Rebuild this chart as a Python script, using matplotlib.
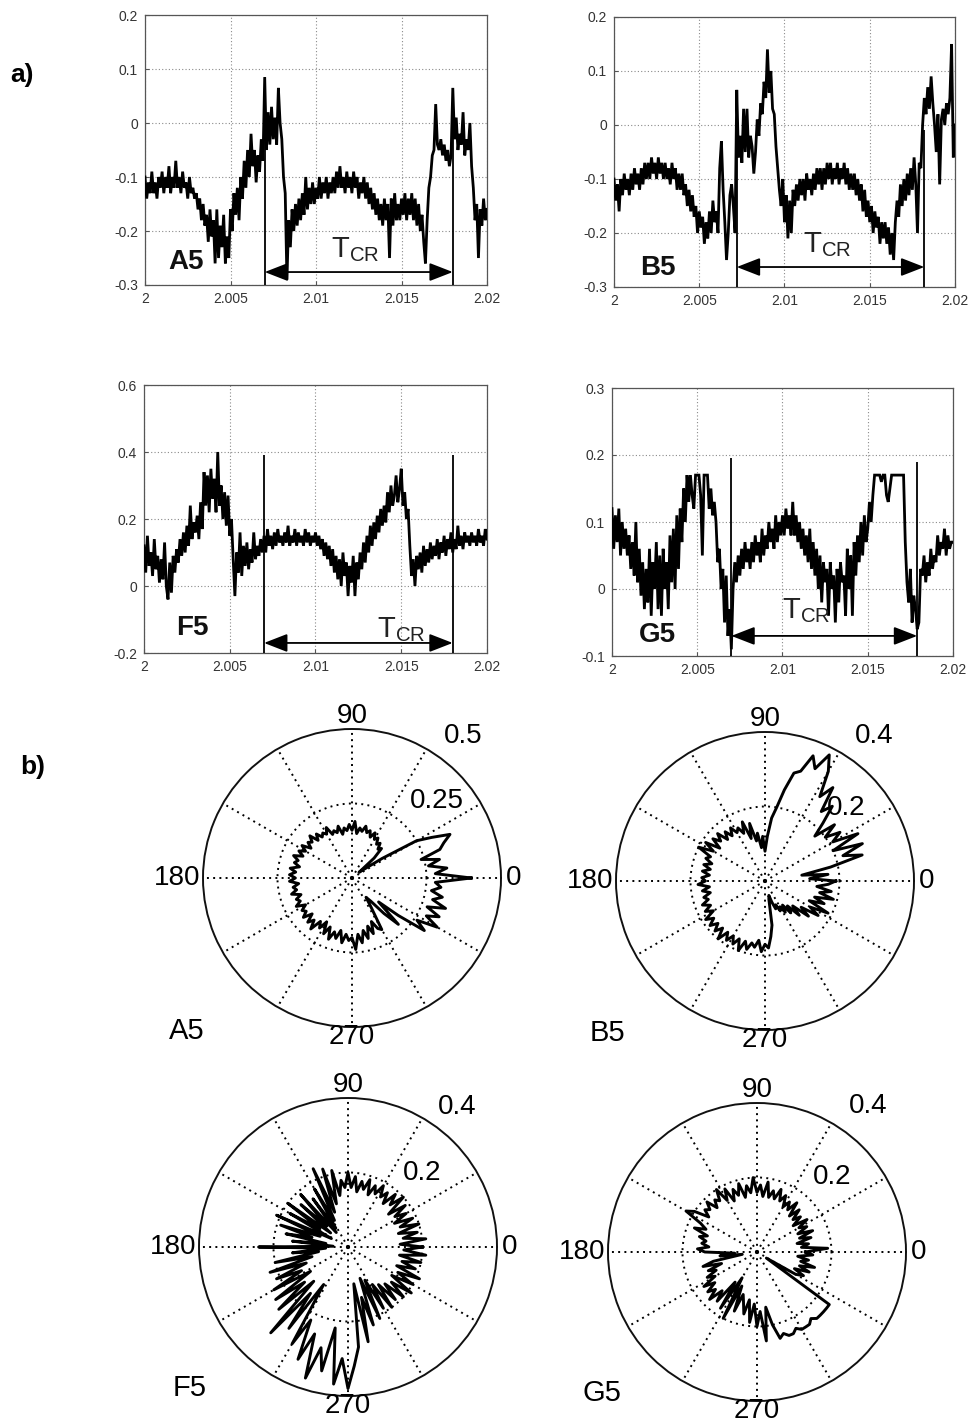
import numpy as np
import matplotlib
matplotlib.use('Agg')
import matplotlib.pyplot as plt

plt.rcParams['font.family'] = ['Liberation Sans', 'DejaVu Sans']
plt.rcParams['mathtext.fontset'] = 'custom'
plt.rcParams['mathtext.rm'] = 'Liberation Sans'

# ---------------- time series (a) ----------------
t_start = 2.0
t_step = 0.0001

a5_signal = [
    -0.10, -0.14, -0.11, -0.13, -0.09, -0.13, -0.11, -0.14, -0.10, -0.12,
    -0.09, -0.13, -0.10, -0.12, -0.08, -0.13, -0.10, -0.12, -0.07, -0.12,
    -0.10, -0.13, -0.09, -0.12, -0.11, -0.14, -0.10, -0.13, -0.12, -0.14,
    -0.13, -0.16, -0.14, -0.18, -0.15, -0.19, -0.17, -0.22, -0.16, -0.21,
    -0.18, -0.26, -0.16, -0.25, -0.19, -0.23, -0.17, -0.26, -0.21, -0.25,
    -0.16, -0.20, -0.13, -0.17, -0.12, -0.18, -0.10, -0.14, -0.07, -0.12,
    -0.05, -0.10, -0.02, -0.08, -0.05, -0.11, -0.06, -0.09, -0.03, -0.07,
    0.085, -0.05, 0.02, -0.04, 0.03, -0.03, 0.01, -0.04, 0.065, 0.00,
    -0.03, -0.10, -0.13, -0.29, -0.18, -0.23, -0.16, -0.20, -0.15, -0.19,
    -0.14, -0.18, -0.13, -0.17, -0.10, -0.16, -0.12, -0.15, -0.11, -0.15,
    -0.12, -0.14, -0.10, -0.14, -0.11, -0.13, -0.10, -0.14, -0.11, -0.13,
    -0.10, -0.13, -0.09, -0.12, -0.08, -0.12, -0.10, -0.13, -0.09, -0.12,
    -0.10, -0.13, -0.09, -0.12, -0.10, -0.14, -0.11, -0.13, -0.10, -0.14,
    -0.11, -0.15, -0.12, -0.16, -0.13, -0.17, -0.14, -0.18, -0.15, -0.19,
    -0.14, -0.18, -0.15, -0.25, -0.14, -0.19, -0.13, -0.18, -0.15, -0.18,
    -0.14, -0.17, -0.13, -0.18, -0.14, -0.17, -0.13, -0.18, -0.14, -0.19,
    -0.15, -0.20, -0.17, -0.22, -0.26, -0.18, -0.12, -0.10, -0.06, -0.05,
    0.035, -0.04, -0.05, -0.03, -0.06, -0.04, -0.07, -0.05, -0.08, -0.06,
    0.065, -0.03, 0.01, -0.05, -0.02, -0.04, 0.02, -0.06, -0.03, -0.05,
    0.00, -0.08, -0.12, -0.18, -0.15, -0.25, -0.16, -0.19, -0.14, -0.18,
    -0.16,
]

b5_signal = [
    -0.10, -0.14, -0.11, -0.16, -0.10, -0.13, -0.09, -0.12, -0.10, -0.13,
    -0.09, -0.12, -0.08, -0.11, -0.09, -0.12, -0.08, -0.11, -0.07, -0.10,
    -0.07, -0.10, -0.06, -0.09, -0.07, -0.10, -0.06, -0.09, -0.07, -0.10,
    -0.07, -0.10, -0.08, -0.11, -0.07, -0.10, -0.08, -0.12, -0.09, -0.12,
    -0.09, -0.13, -0.11, -0.15, -0.12, -0.16, -0.13, -0.17, -0.15, -0.20,
    -0.16, -0.19, -0.17, -0.22, -0.18, -0.21, -0.16, -0.20, -0.14, -0.18,
    -0.16, -0.20, -0.08, -0.03, -0.12, -0.18, -0.25, -0.20, -0.13, -0.11,
    -0.15, -0.20, 0.065, -0.06, -0.02, -0.07, 0.03, -0.05, 0.03, -0.06,
    -0.02, -0.04, -0.09, -0.05, 0.01, -0.02, 0.04, 0.02, 0.08, 0.05,
    0.14, 0.06, 0.10, 0.03, 0.02, -0.04, -0.08, -0.12, -0.15, -0.10,
    -0.18, -0.13, -0.21, -0.14, -0.20, -0.12, -0.15, -0.11, -0.14, -0.10,
    -0.13, -0.10, -0.14, -0.09, -0.12, -0.10, -0.13, -0.09, -0.12, -0.08,
    -0.11, -0.08, -0.12, -0.08, -0.11, -0.07, -0.10, -0.07, -0.11, -0.08,
    -0.10, -0.07, -0.11, -0.08, -0.10, -0.07, -0.11, -0.08, -0.12, -0.09,
    -0.12, -0.09, -0.13, -0.10, -0.14, -0.11, -0.16, -0.12, -0.17, -0.14,
    -0.18, -0.15, -0.20, -0.16, -0.19, -0.17, -0.22, -0.18, -0.21, -0.18,
    -0.22, -0.19, -0.24, -0.20, -0.25, -0.18, -0.14, -0.17, -0.11, -0.15,
    -0.10, -0.14, -0.09, -0.13, -0.08, -0.12, -0.06, -0.11, -0.20, -0.07,
    -0.08, 0.00, 0.05, 0.02, 0.07, 0.03, 0.09, 0.04, 0.00, -0.05,
    0.02, -0.11, 0.01, 0.03, 0.00, 0.04, 0.02, 0.05, 0.15, -0.06,
    0.00,
]

f5_signal = [
    0.12, 0.04, 0.15, 0.06, 0.10, 0.03, 0.14, 0.05, 0.09, 0.01,
    0.08, 0.02, 0.13, 0.00, -0.04, 0.07, -0.02, 0.09, 0.04, 0.11,
    0.07, 0.14, 0.09, 0.16, 0.10, 0.18, 0.12, 0.24, 0.14, 0.19,
    0.16, 0.21, 0.14, 0.25, 0.17, 0.34, 0.24, 0.33, 0.22, 0.35,
    0.26, 0.32, 0.22, 0.40, 0.24, 0.30, 0.20, 0.28, 0.18, 0.27,
    0.15, 0.20, 0.08, -0.03, 0.10, 0.04, 0.16, 0.03, 0.12, 0.06,
    0.13, 0.05, 0.11, 0.07, 0.16, 0.08, 0.12, 0.09, 0.14, 0.10,
    0.15, 0.10, 0.17, 0.12, 0.15, 0.11, 0.16, 0.12, 0.17, 0.13,
    0.15, 0.12, 0.16, 0.13, 0.18, 0.12, 0.15, 0.13, 0.17, 0.12,
    0.16, 0.13, 0.15, 0.12, 0.17, 0.13, 0.16, 0.12, 0.15, 0.13,
    0.16, 0.12, 0.15, 0.11, 0.14, 0.09, 0.13, 0.08, 0.12, 0.06,
    0.11, 0.04, 0.09, 0.02, 0.08, 0.00, 0.10, 0.03, 0.07, -0.03,
    0.06, 0.01, 0.09, -0.03, 0.07, 0.02, 0.10, 0.05, 0.13, 0.07,
    0.15, 0.10, 0.18, 0.12, 0.19, 0.14, 0.21, 0.16, 0.23, 0.18,
    0.24, 0.19, 0.28, 0.22, 0.30, 0.24, 0.27, 0.33, 0.25, 0.29,
    0.35, 0.24, 0.28, 0.20, 0.23, 0.12, 0.03, 0.08, 0.00, 0.09,
    0.05, 0.10, 0.04, 0.12, 0.06, 0.11, 0.07, 0.13, 0.08, 0.12,
    0.09, 0.14, 0.08, 0.13, 0.10, 0.15, 0.09, 0.14, 0.11, 0.16,
    0.10, 0.14, 0.11, 0.18, 0.12, 0.15, 0.11, 0.16, 0.13, 0.15,
    0.12, 0.16, 0.13, 0.15, 0.12, 0.17, 0.13, 0.15, 0.12, 0.17,
    0.14,
]

g5_signal = [
    0.12, 0.06, 0.11, 0.07, 0.12, 0.05, 0.10, 0.06, 0.09, 0.05,
    0.08, 0.03, 0.07, 0.02, 0.10, 0.01, 0.06, -0.01, 0.04, -0.03,
    0.03, -0.02, 0.06, -0.04, 0.04, 0.00, 0.07, -0.03, 0.05, -0.04,
    0.06, 0.00, 0.04, -0.03, 0.08, 0.01, 0.09, 0.00, 0.11, 0.03,
    0.12, 0.07, 0.15, 0.10, 0.17, 0.13, 0.17, 0.14, 0.12, 0.17,
    0.17, 0.17, 0.14, 0.05, 0.17, 0.17, 0.17, 0.12, 0.15, 0.11,
    0.13, 0.10, 0.04, 0.06, 0.00, 0.03, -0.05, 0.02, -0.07, -0.03,
    -0.09, 0.00, 0.04, 0.01, 0.05, 0.02, 0.06, 0.03, 0.07, 0.04,
    0.06, 0.03, 0.07, 0.04, 0.08, 0.05, 0.07, 0.04, 0.09, 0.05,
    0.08, 0.06, 0.10, 0.07, 0.09, 0.06, 0.11, 0.07, 0.10, 0.08,
    0.11, 0.08, 0.12, 0.09, 0.11, 0.08, 0.13, 0.08, 0.11, 0.07,
    0.10, 0.06, 0.09, 0.05, 0.08, 0.04, 0.09, 0.03, 0.07, 0.02,
    0.06, 0.00, 0.05, -0.02, 0.04, 0.01, 0.03, -0.04, 0.04, 0.00,
    0.02, -0.05, 0.03, -0.02, 0.04, 0.01, 0.02, -0.04, 0.06, 0.00,
    0.05, -0.04, 0.07, 0.02, 0.08, 0.04, 0.10, 0.05, 0.11, 0.07,
    0.09, 0.13, 0.10, 0.14, 0.17, 0.17, 0.17, 0.17, 0.16, 0.17,
    0.17, 0.14, 0.13, 0.15, 0.17, 0.17, 0.17, 0.17, 0.17, 0.17,
    0.17, 0.17, 0.07, 0.01, -0.02, 0.03, -0.05, -0.01, -0.03, -0.06,
    -0.05, 0.03, 0.02, 0.05, 0.01, 0.04, 0.02, 0.06, 0.03, 0.05,
    0.04, 0.08, 0.05, 0.07, 0.06, 0.09, 0.05, 0.08, 0.06, 0.07,
    0.07,
]

x_ticks = [2.0, 2.005, 2.01, 2.015, 2.02]
x_tick_labels = ['2', '2.005', '2.01', '2.015', '2.02']
ab_yticks = [-0.3, -0.2, -0.1, 0.0, 0.1, 0.2]
ab_ylabels = ['-0.3', '-0.2', '-0.1', '0', '0.1', '0.2']
f5_yticks = [-0.2, 0.0, 0.2, 0.4, 0.6]
f5_ylabels = ['-0.2', '0', '0.2', '0.4', '0.6']
g5_yticks = [-0.1, 0.0, 0.1, 0.2, 0.3]
g5_ylabels = ['-0.1', '0', '0.1', '0.2', '0.3']

# T_CR marker times and heights of the marker lines
a5_tcr = [2.0070, 2.0180]
a5_tcr_top = [0.085, 0.065]
b5_tcr = [2.0072, 2.0182]
b5_tcr_top = [0.062, -0.01]
f5_tcr = [2.0070, 2.0180]
f5_tcr_top = [0.39, 0.39]
g5_tcr = [2.0070, 2.0179]
g5_tcr_top = [0.195, 0.19]

# ---------------- polar plots (b) ----------------
theta_step_deg = 3

a5_polar = [
    0.40, 0.28, 0.32, 0.26, 0.30, 0.24, 0.31, 0.33, 0.36, 0.30,
    0.25, 0.12, 0.05, 0.03, 0.10, 0.14, 0.13, 0.15, 0.14, 0.16,
    0.15, 0.17, 0.15, 0.17, 0.16, 0.18, 0.16, 0.17, 0.15, 0.19,
    0.16, 0.18, 0.16, 0.17, 0.15, 0.18, 0.16, 0.17, 0.16, 0.19,
    0.17, 0.18, 0.17, 0.19, 0.17, 0.20, 0.18, 0.19, 0.17, 0.20,
    0.18, 0.20, 0.18, 0.21, 0.19, 0.20, 0.18, 0.21, 0.19, 0.21,
    0.19, 0.21, 0.18, 0.20, 0.19, 0.21, 0.18, 0.20, 0.19, 0.21,
    0.18, 0.20, 0.19, 0.21, 0.18, 0.21, 0.19, 0.22, 0.18, 0.20,
    0.17, 0.21, 0.18, 0.22, 0.19, 0.21, 0.18, 0.22, 0.19, 0.21,
    0.20, 0.24, 0.19, 0.22, 0.18, 0.21, 0.17, 0.20, 0.16, 0.19,
    0.20, 0.12, 0.08, 0.10, 0.16, 0.22, 0.12, 0.20, 0.30, 0.26,
    0.33, 0.28, 0.32, 0.27, 0.33, 0.28, 0.31, 0.27, 0.30, 0.28,
    0.40,
]

b5_polar = [
    0.19, 0.12, 0.17, 0.10, 0.18, 0.27, 0.22, 0.28, 0.20, 0.28,
    0.21, 0.24, 0.20, 0.24, 0.18, 0.22, 0.27, 0.24, 0.31, 0.27,
    0.34, 0.38, 0.33, 0.36, 0.31, 0.30, 0.25, 0.20, 0.17, 0.12,
    0.08, 0.12, 0.09, 0.13, 0.11, 0.16, 0.12, 0.17, 0.14, 0.16,
    0.15, 0.17, 0.15, 0.17, 0.15, 0.18, 0.16, 0.18, 0.15, 0.19,
    0.16, 0.20, 0.16, 0.17, 0.15, 0.17, 0.15, 0.17, 0.15, 0.17,
    0.16, 0.18, 0.15, 0.17, 0.15, 0.17, 0.16, 0.18, 0.16, 0.18,
    0.16, 0.19, 0.17, 0.19, 0.17, 0.19, 0.17, 0.20, 0.17, 0.19,
    0.17, 0.19, 0.17, 0.20, 0.17, 0.19, 0.17, 0.18, 0.16, 0.19,
    0.17, 0.18, 0.15, 0.12, 0.05, 0.04, 0.06, 0.08, 0.07, 0.09,
    0.08, 0.10, 0.08, 0.11, 0.09, 0.13, 0.10, 0.15, 0.12, 0.17,
    0.14, 0.19, 0.13, 0.17, 0.14, 0.19, 0.15, 0.18, 0.14, 0.17,
    0.19,
]

f5_polar = [
    0.20, 0.14, 0.21, 0.15, 0.19, 0.14, 0.20, 0.15, 0.19, 0.14,
    0.18, 0.15, 0.19, 0.14, 0.20, 0.16, 0.19, 0.15, 0.18, 0.16,
    0.19, 0.16, 0.18, 0.15, 0.19, 0.16, 0.18, 0.15, 0.19, 0.16,
    0.20, 0.16, 0.18, 0.14, 0.21, 0.12, 0.22, 0.10, 0.23, 0.08,
    0.18, 0.06, 0.16, 0.05, 0.19, 0.08, 0.17, 0.06, 0.20, 0.09,
    0.18, 0.05, 0.21, 0.08, 0.19, 0.10, 0.17, 0.06, 0.15, 0.04,
    0.24, 0.06, 0.15, 0.08, 0.20, 0.10, 0.22, 0.12, 0.21, 0.14,
    0.23, 0.12, 0.24, 0.15, 0.25, 0.13, 0.31, 0.16, 0.27, 0.12,
    0.30, 0.22, 0.33, 0.25, 0.37, 0.28, 0.34, 0.22, 0.37, 0.30,
    0.38, 0.32, 0.27, 0.10, 0.26, 0.14, 0.22, 0.09, 0.21, 0.10,
    0.19, 0.12, 0.20, 0.13, 0.19, 0.14, 0.20, 0.15, 0.21, 0.14,
    0.20, 0.15, 0.21, 0.14, 0.19, 0.15, 0.20, 0.14, 0.21, 0.15,
    0.20,
]

g5_polar = [
    0.13, 0.19, 0.12, 0.14, 0.11, 0.15, 0.12, 0.16, 0.12, 0.15,
    0.13, 0.16, 0.12, 0.15, 0.13, 0.16, 0.13, 0.17, 0.14, 0.16,
    0.14, 0.17, 0.15, 0.18, 0.15, 0.17, 0.15, 0.19, 0.15, 0.18,
    0.16, 0.20, 0.16, 0.18, 0.15, 0.19, 0.16, 0.18, 0.15, 0.19,
    0.16, 0.20, 0.17, 0.18, 0.16, 0.19, 0.17, 0.18, 0.16, 0.20,
    0.22, 0.17, 0.15, 0.18, 0.14, 0.16, 0.14, 0.15, 0.13, 0.16,
    0.14, 0.06, 0.10, 0.04, 0.12, 0.15, 0.10, 0.14, 0.12, 0.15,
    0.13, 0.17, 0.14, 0.17, 0.15, 0.18, 0.14, 0.17, 0.10, 0.18,
    0.08, 0.20, 0.10, 0.17, 0.12, 0.14, 0.17, 0.13, 0.19, 0.14,
    0.20, 0.16, 0.24, 0.15, 0.20, 0.24, 0.23, 0.24, 0.24, 0.23,
    0.24, 0.24, 0.24, 0.23, 0.24, 0.24, 0.24, 0.24, 0.24, 0.03,
    0.12, 0.14, 0.11, 0.15, 0.12, 0.16, 0.12, 0.14, 0.11, 0.15,
    0.13,
]

# ---------------- figure ----------------
W, H = 976, 1426
fig = plt.figure(figsize=(W / 100, H / 100), dpi=100)


def rect_px(left, top, width, height):
    return [left / W, 1 - (top + height) / H, width / W, height / H]


def line_panel(rect, y, yticks, ylabels, name, name_xy, tcr, tcr_top,
               arrow_y, t_xy):
    ax = fig.add_axes(rect)
    t = t_start + t_step * np.arange(len(y))
    ax.plot(t, y, color='k', lw=2.0, zorder=3, solid_joinstyle='miter')
    ax.set_xlim(x_ticks[0], x_ticks[-1])
    ax.set_ylim(yticks[0], yticks[-1])
    ax.set_xticks(x_ticks)
    ax.set_xticklabels(x_tick_labels)
    ax.set_yticks(yticks)
    ax.set_yticklabels(ylabels)
    ax.grid(True, color='#8a8a8a', linestyle=(0, (1, 2)), lw=0.8)
    ax.tick_params(direction='in', length=3, labelsize=10,
                   labelcolor='#333333', color='#555555', pad=5)
    for s in ax.spines.values():
        s.set_color('#555555')
        s.set_linewidth(0.9)
    ax.vlines(tcr, yticks[0], tcr_top, color='k', lw=1.3, zorder=4)
    ax.annotate('', xy=(tcr[1], arrow_y), xytext=(tcr[0], arrow_y),
                arrowprops=dict(arrowstyle='<|-|>,head_length=0.9,head_width=0.35',
                                color='k', lw=1.3, mutation_scale=16,
                                shrinkA=0, shrinkB=0), zorder=5)
    ax.text(t_xy[0], t_xy[1], r'$\mathregular{T_{CR}}$', fontsize=21,
            ha='left', va='baseline', color='#222222', zorder=6)
    ax.text(name_xy[0], name_xy[1], name, transform=ax.transAxes,
            fontsize=20, fontweight='bold', ha='center', va='center',
            color='#111111', zorder=6)
    return ax


line_panel(rect_px(145, 15, 342, 270), a5_signal, ab_yticks, ab_ylabels,
           'A5', (0.12, 0.085), a5_tcr, a5_tcr_top, -0.276, (2.0109, -0.248))
line_panel(rect_px(614, 17, 341, 270), b5_signal, ab_yticks, ab_ylabels,
           'B5', (0.13, 0.07), b5_tcr, b5_tcr_top, -0.263, (2.0111, -0.235))
line_panel(rect_px(144, 385, 343, 268), f5_signal, f5_yticks, f5_ylabels,
           'F5', (0.14, 0.093), f5_tcr, f5_tcr_top, -0.17, (2.0136, -0.152))
line_panel(rect_px(612, 388, 341, 268), g5_signal, g5_yticks, g5_ylabels,
           'G5', (0.132, 0.078), g5_tcr, g5_tcr_top, -0.07, (2.0100, -0.043))


def polar_panel(cx, cy, rad, r, rmax, outer_lbl, outer_pos, inner_lbl,
                inner_pos, name, name_px):
    ax = fig.add_axes(rect_px(cx - rad, cy - rad, 2 * rad, 2 * rad),
                      projection='polar')
    theta = np.deg2rad(np.arange(0, 360 + theta_step_deg, theta_step_deg))
    ax.plot(theta, r, color='k', lw=2.1, zorder=3)
    ax.set_ylim(0, rmax)
    ax.set_thetagrids(np.arange(0, 360, 30), labels=[''] * 12)
    ax.set_rgrids([rmax / 2], labels=[''])
    ax.grid(True, color='k', linestyle=(0, (1, 2.2)), lw=1.4)
    ax.spines['polar'].set_linewidth(1.4)
    ax.spines['polar'].set_color('#111111')
    fs = 20
    ax.text(0, rmax * 1.035, '0', ha='left', va='center', fontsize=fs,
            clip_on=False)
    ax.text(np.pi / 2, rmax * 1.085, '90', ha='center', va='center',
            fontsize=fs, clip_on=False)
    ax.text(np.pi, rmax * 1.02, '180', ha='right', va='center', fontsize=fs,
            clip_on=False)
    ax.text(3 * np.pi / 2, rmax * 1.065, '270', ha='center', va='center',
            fontsize=fs, clip_on=False)
    ax.text(np.deg2rad(outer_pos[0]), outer_pos[1] * rmax, outer_lbl,
            ha='center', va='center', fontsize=20, clip_on=False)
    ax.text(np.deg2rad(inner_pos[0]), inner_pos[1] * rmax, inner_lbl,
            ha='center', va='center', fontsize=20, clip_on=False, zorder=2)
    fig.text(name_px[0] / W, 1 - name_px[1] / H, name, ha='center',
             va='center', fontsize=21)
    return ax


polar_panel(352, 878, 149, a5_polar, 0.5, '0.5', (52, 1.21), '0.25',
            (42, 0.77), 'A5', (187, 1031))
polar_panel(765, 881, 149, b5_polar, 0.4, '0.4', (53, 1.22), '0.2',
            (42, 0.73), 'B5', (607, 1033))
polar_panel(348, 1247, 149, f5_polar, 0.4, '0.4', (52, 1.19), '0.2',
            (45, 0.70), 'F5', (190, 1388))
polar_panel(757, 1252, 149, g5_polar, 0.4, '0.4', (52.6, 1.23), '0.2',
            (45, 0.71), 'G5', (602, 1393))

fig.text(10 / W, 1 - 82 / H, 'a)', fontsize=19, fontweight='bold',
         va='baseline', ha='left')
fig.text(20 / W, 1 - 774 / H, 'b)', fontsize=19, fontweight='bold',
         va='baseline', ha='left')

fig.savefig('out.png', dpi=100)
